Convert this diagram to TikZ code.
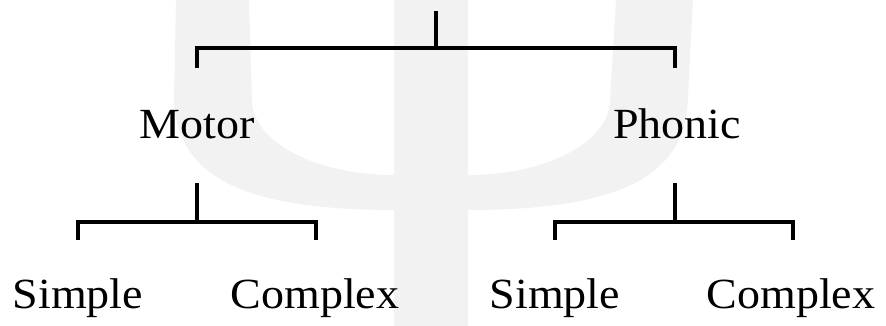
\documentclass[tikz,border=0pt]{standalone}
\usepackage{fontspec}
\setmainfont{Liberation Serif}[FakeStretch=1.07]
\begin{document}
\begin{tikzpicture}[x=1pt,y=-1pt,
  tree/.style={line width=3.1pt, draw=black},
  lbl/.style={anchor=base, inner sep=0pt, font=\fontsize{43}{50}\selectfont},
  psi/.style={fill=black!5, draw=none}]
\useasboundingbox (0,0) rectangle (886,326);
\fill[psi] (176,0) -- (174,95) .. controls (174,175) and (240,210) .. (394,210)
  -- (394,326) -- (468,326) -- (468,210)
  .. controls (622,210) and (688,175) .. (688,95) -- (693,0) -- (616,0) -- (610,100)
  .. controls (610,141) and (548,175) .. (468,175) -- (468,0) -- (394,0) -- (394,175)
  .. controls (314,175) and (252,141) .. (252,100) -- (249,0) -- cycle;
\node[lbl] (motor) at (197,139) {Motor};
\node[lbl] (phonic) at (677,139) {Phonic};
\node[lbl] (s1) at (78,308) {Simple};
\node[lbl] (c1) at (315,308) {Complex};
\node[lbl] (s2) at (555,308) {Simple};
\node[lbl] (c2) at (791,308) {Complex};
\coordinate (root) at (436,11);
\coordinate (rj) at (436,48);
\coordinate (mj) at (197,222);
\coordinate (pj) at (675,222);
\coordinate (md) at (197,68);
\coordinate (pd) at (675,68);
\coordinate (mu) at (197,183);
\coordinate (pu) at (675,183);
\coordinate (s1d) at (78,240);
\coordinate (c1d) at (316,240);
\coordinate (s2d) at (555,240);
\coordinate (c2d) at (793,240);
\draw[tree] (root) -- (rj);
\draw[tree] (md) |- (rj) -| (pd);
\draw[tree] (mu) -- (mj);
\draw[tree] (s1d) |- (mj) -| (c1d);
\draw[tree] (pu) -- (pj);
\draw[tree] (s2d) |- (pj) -| (c2d);
\end{tikzpicture}
\end{document}
